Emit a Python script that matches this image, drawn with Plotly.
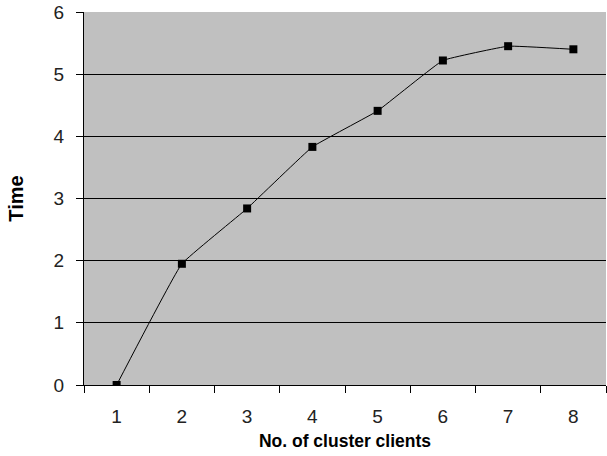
import plotly.graph_objects as go

clients = [1, 2, 3, 4, 5, 6, 7, 8]
times = [0.0, 1.95, 2.84, 3.83, 4.41, 5.22, 5.45, 5.40]
x_tick_labels = ["1", "2", "3", "4", "5", "6", "7", "8"]
y_tick_vals = [0, 1, 2, 3, 4, 5, 6]

tick_font = dict(family="Liberation Sans Narrow, Arial Narrow, Liberation Sans, Arial, sans-serif",
                 size=19, color="#222222")

fig = go.Figure()
fig.add_trace(go.Scatter(
    x=clients, y=times, mode="lines+markers",
    line=dict(color="black", width=1, shape="spline", smoothing=0.25),
    marker=dict(symbol="square", size=8, color="black"),
    showlegend=False,
))

fig.update_layout(
    width=607, height=456,
    margin=dict(l=84, r=1, t=12, b=71),
    paper_bgcolor="white", plot_bgcolor="#C0C0C0",
    font=dict(family="Liberation Sans, Arial, sans-serif", size=14, color="black"),
    xaxis=dict(
        range=[0.5, 8.5], tickmode="array", tickvals=clients, ticktext=x_tick_labels,
        ticks="", showgrid=False, zeroline=False, tickfont=tick_font,
        showline=True, linecolor="black", linewidth=1,
        minor=dict(tickmode="array", tickvals=[i + 0.5 for i in range(0, 9)],
                   ticks="outside", ticklen=7, tickcolor="black", tickwidth=1, showgrid=False),
        title=dict(text="<b>No. of cluster clients</b>", font=dict(size=17.5, color="black"), standoff=8),
        ticklabelstandoff=14,
    ),
    yaxis=dict(
        range=[0, 6], tickmode="array", tickvals=y_tick_vals,
        ticks="outside", ticklen=7, tickcolor="black", tickfont=tick_font,
        showgrid=True, gridcolor="black", gridwidth=1, zeroline=False,
        showline=True, linecolor="black", linewidth=1,
        title=dict(text="<b>Time</b>", font=dict(size=20, color="black"), standoff=24),
        ticklabelstandoff=8,
    ),
)

fig.write_html("out.html")
